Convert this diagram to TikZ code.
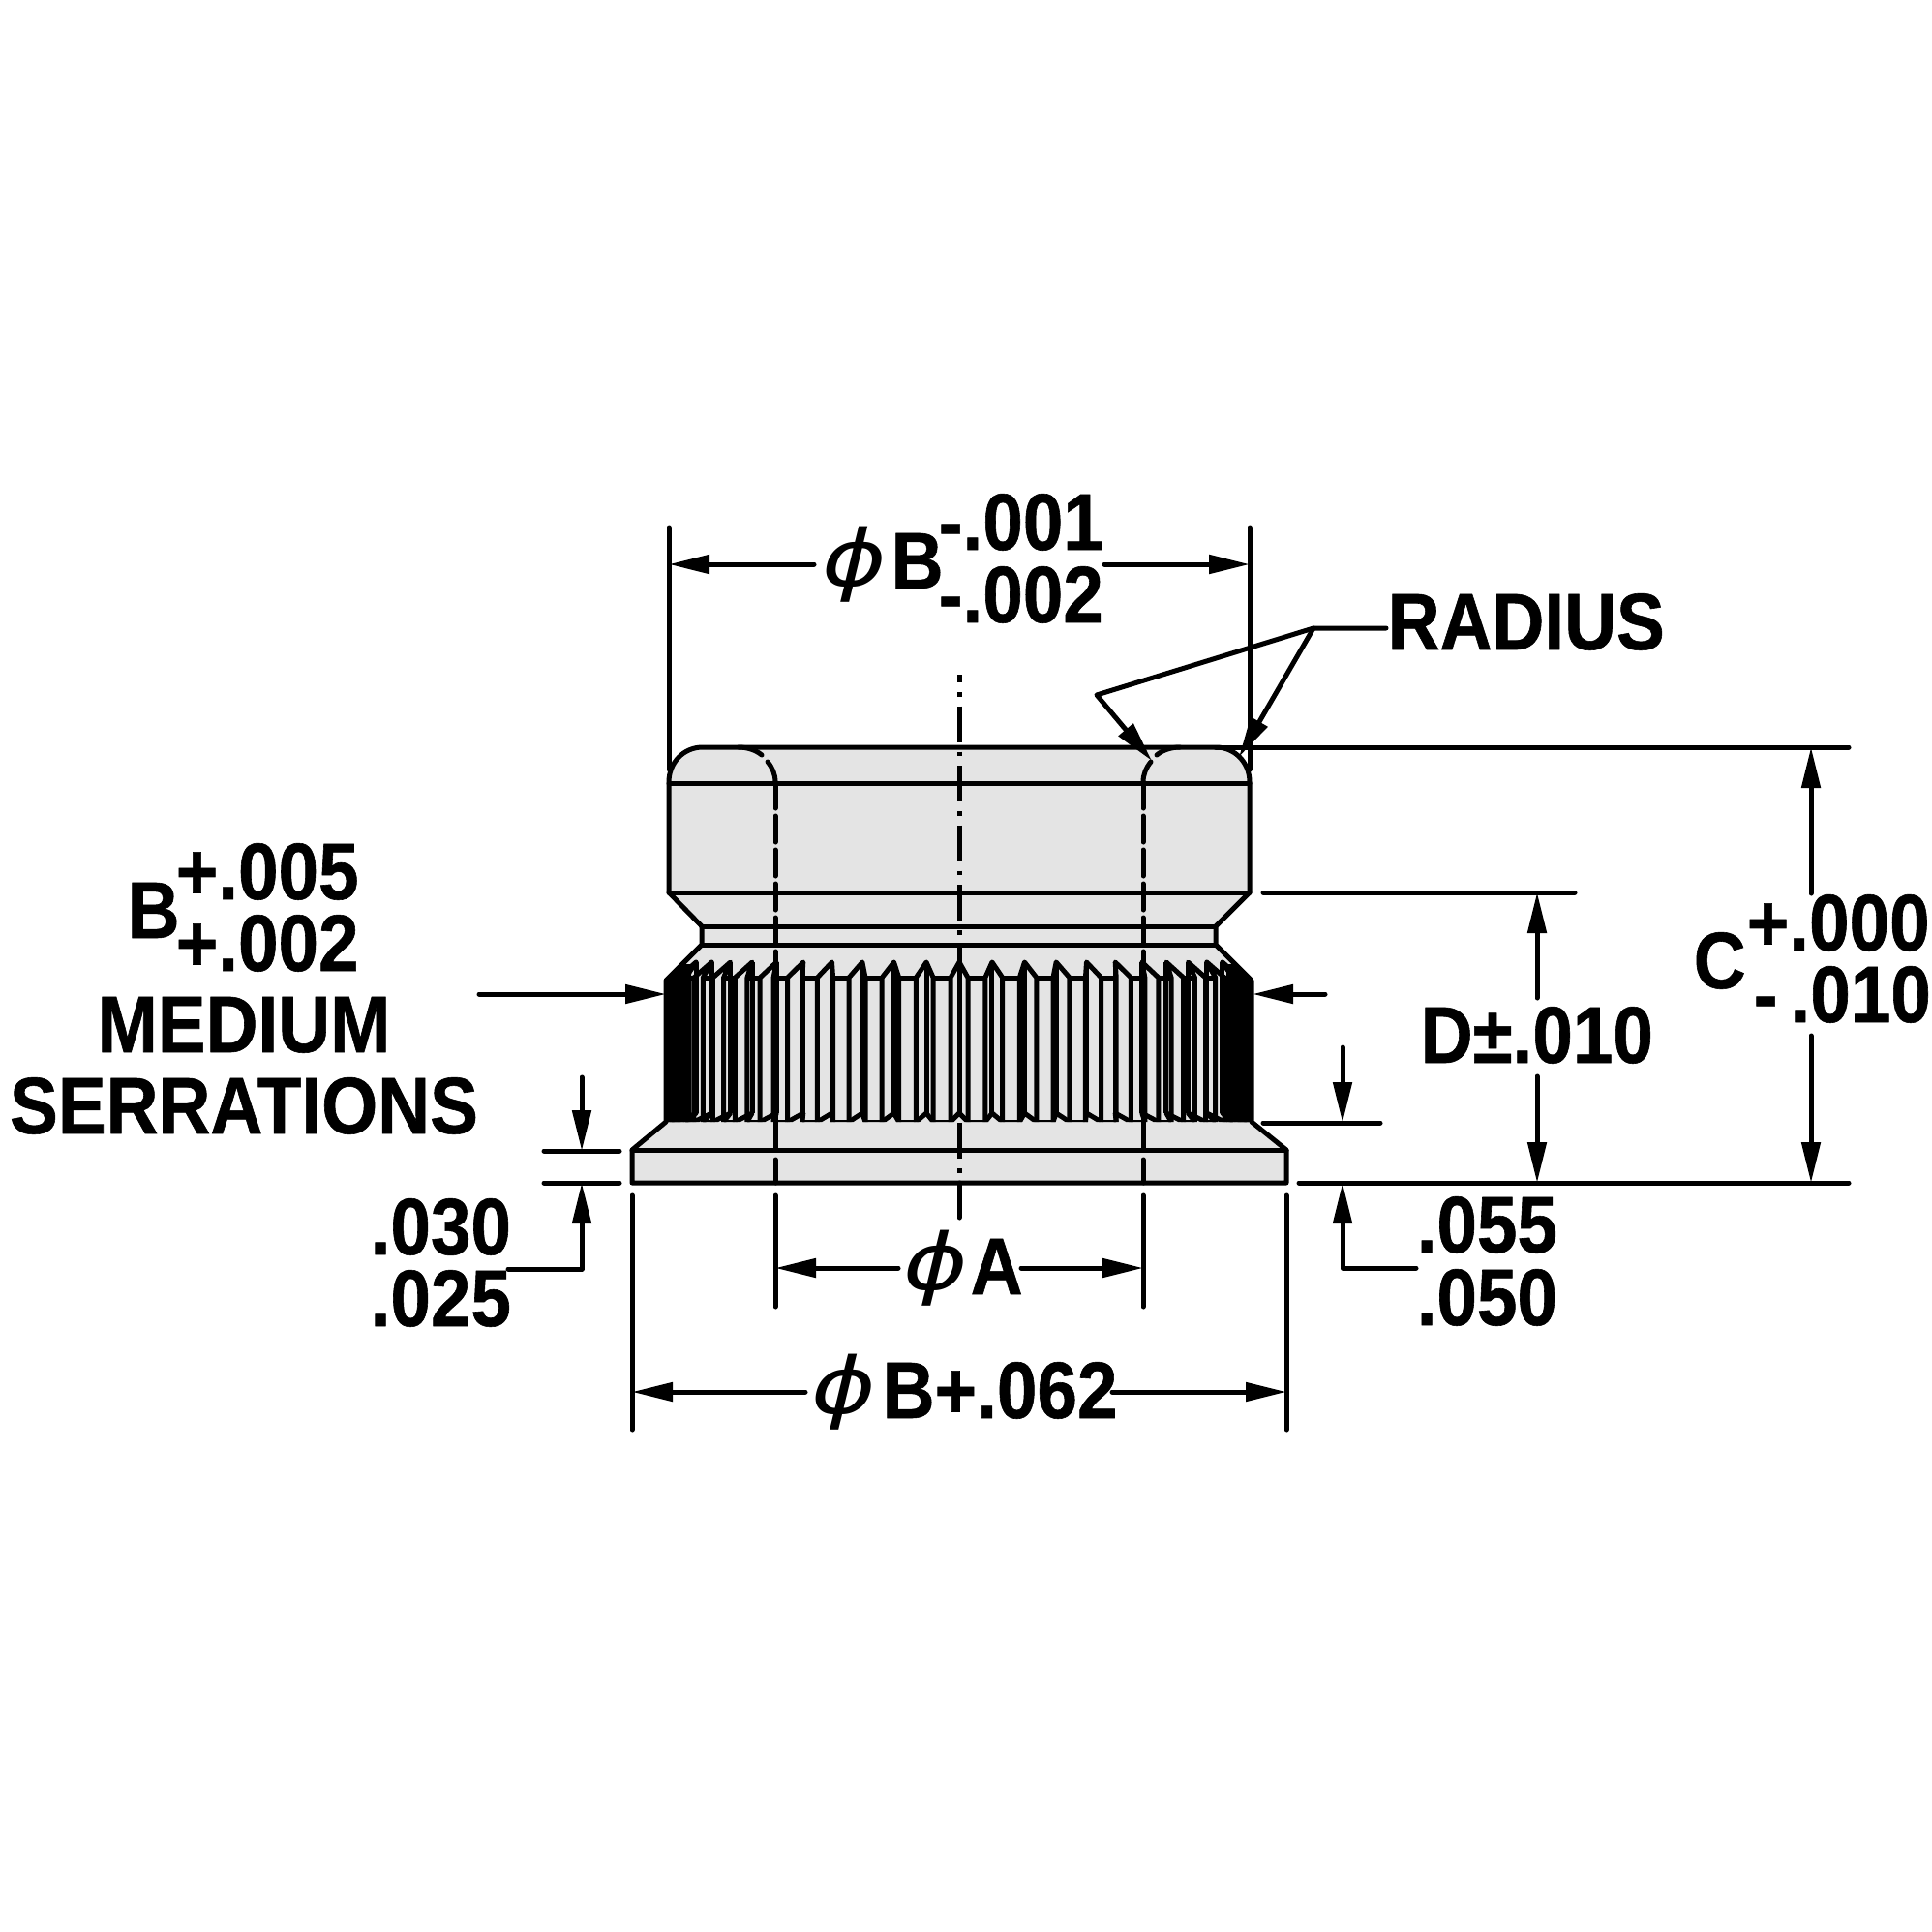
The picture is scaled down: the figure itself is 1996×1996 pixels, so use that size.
\documentclass[tikz,border=0pt]{standalone}
\usepackage{fontspec}
\usetikzlibrary{arrows.meta}
\newfontfamily\partfont[FakeStretch=0.9,BoldFeatures={FakeBold=0.7}]{Liberation Sans}
\newfontfamily\phifont[FakeStretch=1.25]{DejaVu Sans}
\definecolor{partgrey}{HTML}{E4E4E4}
\tikzset{
  thickline/.style={line width=.5mm,line cap=round,line join=round},
  hiddenline/.style={thickline,dash pattern=on 2.7mm off .8mm},
  centerline/.style={line width=.5mm,dash pattern=on 3.7mm off 1mm on .45mm off 1mm,dash phase=2.9mm},
  dimarrow/.style={thickline,-{Triangle[length=4.2mm,width=1.9mm]}},
  lbl/.style={anchor=base west,inner sep=0pt,font=\partfont\bfseries\fontsize{23.6pt}{28pt}\selectfont},
  philbl/.style={anchor=center,inner sep=0pt,font=\phifont\itshape\fontsize{23pt}{26pt}\selectfont}
}
\begin{document}
\begin{tikzpicture}[x=.1mm,y=-.1mm]
  \useasboundingbox (0,0) rectangle (1996,1996);

  % part outline
  \path[fill=partgrey] (691,808) .. controls (691,788) and (706,772) .. (726,772)
    -- (1256,772) .. controls (1276,772) and (1291,788) .. (1291,808)
    -- (1291,922) -- (1256,957) -- (1256,976) -- (1293,1013) -- (1293,1159)
    -- (1329,1188) -- (1329,1222) -- (653,1222) -- (653,1188) -- (688,1159)
    -- (688,1013) -- (725,976) -- (725,957) -- (691,922) -- cycle;

  % serrations
  \begin{scope}
    \clip (725,976) -- (688,1013) -- (688,1159) -- (1293,1159) -- (1293,1013) -- (1256,976) -- cycle;
    \foreach \k in {-13,...,13} {
      \pgfmathsetmacro\ang{\k*6.5}
      \pgfmathsetmacro\xp{991+300*sin(\ang)}
      \pgfmathsetmacro\xa{991+316*sin(\ang)-9*cos(\ang)}
      \pgfmathsetmacro\xb{991+316*sin(\ang)+9*cos(\ang)}
      \pgfmathsetmacro\xn{991+316*sin(\ang+6.5)-9*cos(\ang+6.5)}
      \draw[line width=.5mm,line join=round] (\xa,1159) -- (\xa,1010) -- (\xp,994) -- (\xb,1010) -- (\xb,1159);
      \draw[line width=.5mm,line join=round] (\xa,1159) -- (\xp,1150) -- (\xb,1159);
      \draw[line width=.5mm] (\xp,994) -- (\xp,1150);
      \draw[line width=.5mm] (\xb,1010) -- (\xn,1010);
      \draw[line width=.5mm] (\xb,1159) -- (\xn,1159);
    }
  \end{scope}
  \fill (688,1013) -- (705,996) -- (714,996) -- (714,1159) -- (688,1159) -- cycle;
  \fill (1293,1013) -- (1276,996) -- (1267,996) -- (1267,1159) -- (1293,1159) -- cycle;

  \draw[thickline] (691,808) .. controls (691,788) and (706,772) .. (726,772)
    -- (1256,772) .. controls (1276,772) and (1291,788) .. (1291,808)
    -- (1291,922) -- (1256,957) -- (1256,976) -- (1293,1013) -- (1293,1159)
    -- (1329,1188) -- (1329,1222) -- (653,1222) -- (653,1188) -- (688,1159)
    -- (688,1013) -- (725,976) -- (725,957) -- (691,922) -- cycle;
  \draw[thickline] (691,809) -- (1291,809);
  \draw[thickline] (691,922) -- (1291,922);
  \draw[thickline] (725,957) -- (1256,957);
  \draw[thickline] (725,976) -- (1256,976);
  \draw[thickline] (653,1188) -- (1329,1188);

  % hidden hole and axis
  \draw[thickline] (801,808) .. controls (801,800) and (798,793) .. (793,787);
  \draw[thickline] (787,780) .. controls (781,775) and (772,772) .. (763,772);
  \draw[thickline] (1181,808) .. controls (1181,800) and (1184,793) .. (1189,787);
  \draw[thickline] (1195,780) .. controls (1201,775) and (1210,772) .. (1219,772);
  \draw[hiddenline] (801,808) -- (801,1010);
  \draw[hiddenline] (1181,808) -- (1181,1010);
  \draw[thickline] (801,1010) -- (801,1188);
  \draw[thickline] (1181,1010) -- (1181,1188);
  \draw[thickline] (801,1198) -- (801,1222);
  \draw[thickline] (1181,1198) -- (1181,1222);
  \draw[centerline] (991,697) -- (991,1258);

  % named ends of the dimension lines
  \coordinate (bL) at (691,583);
  \coordinate (bR) at (1291,583);
  \coordinate (bLgap) at (841,583);
  \coordinate (bRgap) at (1141,583);
  \coordinate (radiusEnd) at (1432,649);
  \coordinate (elbow) at (1357,649);
  \coordinate (bend) at (1133,718);
  \coordinate (tipL) at (1190,786);
  \coordinate (tipR) at (1280,782);
  \coordinate (cTop) at (1871,772);
  \coordinate (cBot) at (1871,1222);
  \coordinate (cGapA) at (1871,923);
  \coordinate (cGapB) at (1871,1070);
  \coordinate (dTop) at (1588,922);
  \coordinate (dBot) at (1588,1222);
  \coordinate (dGapA) at (1588,1031);
  \coordinate (dGapB) at (1588,1112);
  \coordinate (srL) at (688,1027);
  \coordinate (srLfree) at (495,1027);
  \coordinate (srR) at (1294,1027);
  \coordinate (srRfree) at (1369,1027);
  \coordinate (shTop) at (1387,1082);
  \coordinate (shTip) at (1387,1160);
  \coordinate (shBot) at (1387,1222);
  \coordinate (shBend) at (1387,1310);
  \coordinate (shFree) at (1463,1310);
  \coordinate (flTop) at (601,1113);
  \coordinate (flTip) at (601,1189);
  \coordinate (flBot) at (601,1222);
  \coordinate (flBend) at (601,1311);
  \coordinate (flFree) at (525,1311);
  \coordinate (aL) at (801,1310);
  \coordinate (aR) at (1181,1310);
  \coordinate (aLgap) at (928,1310);
  \coordinate (aRgap) at (1055,1310);
  \coordinate (b2L) at (653,1438);
  \coordinate (b2R) at (1329,1438);
  \coordinate (b2Lgap) at (832,1438);
  \coordinate (b2Rgap) at (1149,1438);

  % extension lines
  \begin{scope}[every path/.style={thickline}]
    \path (691,545) edge (691,795);
    \path (1291,545) edge (1291,795);
    \path (1256,772) edge (1910,772);
    \path (1305,922) edge (1627,922);
    \path (1305,1160) edge (1426,1160);
    \path (1342,1222) edge (1910,1222);
    \path (562,1189) edge (640,1189);
    \path (562,1222) edge (640,1222);
    \path (653,1235) edge (653,1477);
    \path (1329,1235) edge (1329,1477);
    \path (801,1235) edge (801,1350);
    \path (1181,1235) edge (1181,1350);
    \path[line cap=butt] (991,1222) edge (991,1258);
  \end{scope}

  % dimension arrows
  \draw[dimarrow] (bLgap) -- (bL);
  \draw[dimarrow] (bRgap) -- (bR);
  \draw[dimarrow] (cGapA) -- (cTop);
  \draw[dimarrow] (cGapB) -- (cBot);
  \draw[dimarrow] (dGapA) -- (dTop);
  \draw[dimarrow] (dGapB) -- (dBot);
  \draw[dimarrow] (srLfree) -- (srL);
  \draw[dimarrow] (srRfree) -- (srR);
  \draw[dimarrow] (shTop) -- (shTip);
  \draw[dimarrow] (shFree) -- (shBend) -- (shBot);
  \draw[dimarrow] (flTop) -- (flTip);
  \draw[dimarrow] (flFree) -- (flBend) -- (flBot);
  \draw[dimarrow] (aLgap) -- (aL);
  \draw[dimarrow] (aRgap) -- (aR);
  \draw[dimarrow] (b2Lgap) -- (b2L);
  \draw[dimarrow] (b2Rgap) -- (b2R);

  % labels
  \begin{scope}[every node/.style={lbl}]
    \node (bTxt) at (920,608) {B};
    \node (bUp) at (969,568) {-.001};
    \node (bLo) at (969,643) {-.002};
    \node (radius) at (1433,671) {RADIUS};
    \node (serB) at (131,969) {B};
    \node (serUp) at (181,929) {+.005};
    \node (serLo) at (181,1003) {+.002};
    \node[anchor=base] (medium) at (252,1087) {MEDIUM};
    \node[anchor=base] (serrations) at (252,1171) {SERRATIONS};
    \node (flUp) at (382,1296) {.030};
    \node (flLo) at (382,1370) {.025};
    \node (cTxt) at (1749,1021) {C};
    \node (cUp) at (1804,982) {+.000};
    \node (cLo) at (1811,1056) {-\hspace{1.3mm}.010};
    \node (dTxt) at (1467,1098) {D±.010};
    \node (shUp) at (1463,1294) {.055};
    \node (shLo) at (1463,1369) {.050};
    \node (aTxt) at (1002,1337) {A};
    \node (b2Txt) at (911,1465) {B+.062};
  \end{scope}
  \begin{scope}[every node/.style={philbl}]
    \node (phiB) at (883,583) {ϕ};
    \node (phiA) at (967,1310) {ϕ};
    \node (phiB2) at (872,1438) {ϕ};
  \end{scope}

  % radius leader
  \draw[dimarrow] (radiusEnd) -- (elbow) -- (bend) -- (tipL);
  \draw[dimarrow] (elbow) -- (tipR);
\end{tikzpicture}
\end{document}
